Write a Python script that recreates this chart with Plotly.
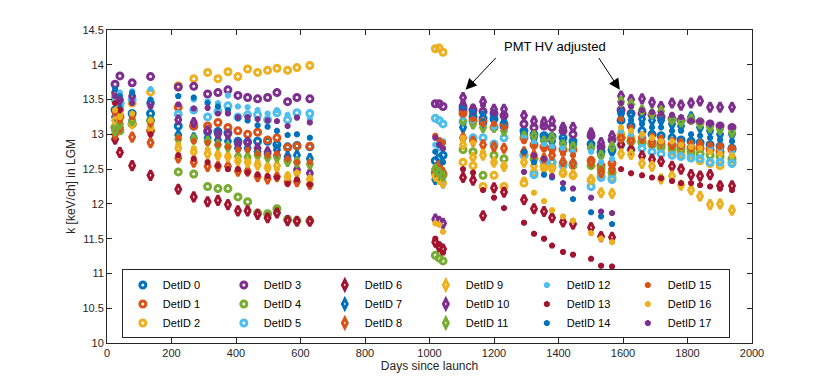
import plotly.graph_objects as go

# days since launch, grouped by campaign
days_g1 = [25, 40, 78, 135, 221, 269, 312, 344, 375, 406, 436, 467, 498, 527, 560, 589, 629]
days_g2 = [1018, 1030, 1042]
days_g3 = [1104, 1135, 1166, 1200, 1231]
days_g4 = [1293, 1324, 1355, 1380, 1414, 1445]
days_g5 = [1501, 1532, 1566]
days_g6 = [1594, 1625, 1659, 1690, 1718, 1752, 1780, 1811, 1839, 1870, 1901, 1938]
days = days_g1 + days_g2 + days_g3 + days_g4 + days_g5 + days_g6

det0 = [13.35, 13.45, 13.3, 13.3, 13.12, 13.12, 13.04, 13.04, 13.02, 12.9, 12.89, 12.9, 12.9, 12.85, 12.82, 12.84, 12.82,
        12.62, 12.66, 12.7,
        13.35, 13.25, 13.23, 13.22, 13.15,
        13.05, 13.0, 12.98, 12.97, 12.95, 12.9,
        12.86, 12.75, 12.78,
        13.2, 13.12, 13.05, 13.0, 12.98, 12.95, 12.92, 12.9, 12.88, 12.85, 12.83, 12.8]
det1 = [13.1, 13.25, 13.15, 13.05, 13.39, 13.12, 13.12, 13.17, 13.1, 13.05, 13.0, 13.03, 12.92, 12.95, 12.81, 12.83, 12.83,
        12.45, 12.5, 12.42,
        13.3, 13.2, 13.18, 13.1, 13.12,
        12.95, 12.85, 12.82, 12.8, 12.78, 12.78,
        12.62, 12.55, 12.58,
        12.95, 12.9, 12.9, 12.88, 12.85, 12.85, 12.83, 12.8, 12.8, 12.78, 12.75, 12.78]
det2 = [13.55, 13.4, 13.45, 13.61, 13.7, 13.8, 13.89, 13.8, 13.9, 13.83, 13.94, 13.89, 13.92, 13.95, 13.92, 13.96, 13.99,
        14.23, 14.24, 14.18,
        12.6, 12.55, 12.25, 12.41, 12.25,
        12.3, 12.45, 12.54, 12.53, 12.44, 12.41,
        12.34, 12.4, 12.38,
        13.0, 12.95, 12.95, 12.85, 12.8, 12.75, 12.72, 12.7, 12.62, 12.58, 12.55, 12.6]
det3 = [13.72, 13.84, 13.74, 13.83, 13.68, 13.69, 13.58, 13.6, 13.64, 13.56, 13.53, 13.51, 13.53, 13.6, 13.47, 13.53, 13.51,
        13.44, 13.44, 13.4,
        13.4, 13.35, 13.33, 13.3, 13.27,
        13.15, 13.1, 13.12, 13.1, 13.05, 13.0,
        12.98, 12.82, 12.92,
        13.35, 13.3, 13.3, 13.28, 13.25, 13.22, 13.2, 13.2, 13.18, 13.15, 13.12, 13.1]
det4 = [13.1, 13.05, 13.15, 13.2, 12.46, 12.43, 12.25, 12.22, 12.22, 12.1, 12.03, 11.87, 11.86, 11.93, 11.78, 11.76, 11.76,
        11.26, 11.22, 11.18,
        12.78, 12.75, 12.41, 12.7, 12.65,
        12.7, 12.65, 12.62, 12.6, 12.58, 12.55,
        12.55, 12.5, 12.45,
        12.95, 12.9, 12.88, 12.85, 12.82, 12.8, 12.78, 12.75, 12.72, 12.7, 12.68, 12.65]
det5 = [13.5, 13.45, 13.5, 13.45, 13.29, 13.35, 13.25, 13.33, 13.41, 13.25, 13.28, 13.28, 13.21, 13.31, 13.21, 13.31, 13.3,
        13.23, 13.2, 13.15,
        13.18, 12.95, 12.95, 12.86, 12.95,
        12.7, 12.42, 12.62, 12.6, 12.55, 12.58,
        12.25, 12.38, 12.35,
        12.85, 12.78, 12.8, 12.75, 12.72, 12.7, 12.68, 12.66, 12.65, 12.6, 12.6, 12.58]
det6 = [12.93, 12.74, 12.55, 12.41, 12.21, 12.1, 12.03, 12.05, 11.99, 11.9, 11.9, 11.85, 11.8, 11.87, 11.76, 11.75, 11.75,
        11.45, 11.38, 11.35,
        12.38, 12.34, 11.83, 12.23, 12.17,
        12.06, 11.93, 11.89, 11.8, 11.74, 11.71,
        11.66, 11.53, 11.52,
        12.85, 12.78, 12.69, 12.64, 12.61, 12.54, 12.5, 12.42, 12.4, 12.42, 12.26, 12.26]
det7 = [13.25, 13.35, 13.2, 13.2, 12.99, 12.95, 12.95, 12.92, 12.9, 12.8, 12.8, 12.75, 12.72, 12.78, 12.68, 12.7, 12.65,
        12.35, 12.4, 12.3,
        13.1, 13.3, 13.15, 13.28, 13.1,
        13.0, 12.95, 12.92, 12.9, 12.88, 12.85,
        12.8, 12.7, 12.75,
        13.3, 13.28, 13.22, 13.2, 13.2, 13.15, 13.12, 13.25, 13.1, 13.05, 13.0, 13.0]
det8 = [13.0, 13.1, 12.96, 12.88, 12.66, 12.6, 12.54, 12.54, 12.54, 12.47, 12.47, 12.39, 12.36, 12.39, 12.32, 12.32, 12.28,
        12.5, 12.55, 12.45,
        12.95, 12.9, 12.85, 12.82, 12.8,
        12.75, 12.7, 12.65, 12.7, 12.6, 12.58,
        12.6, 12.45, 12.5,
        12.95, 12.92, 12.95, 12.88, 12.9, 12.85, 12.85, 12.82, 12.85, 12.8, 12.82, 12.78]
det9 = [13.2, 13.3, 13.15, 13.1, 12.8, 12.75, 12.72, 12.7, 12.68, 12.62, 12.6, 12.56, 12.52, 12.55, 12.39, 12.45, 12.35,
        12.4, 12.35, 12.3,
        12.85, 12.67, 12.7, 12.6, 12.54,
        12.6, 12.55, 12.5, 12.5, 12.45, 12.42,
        12.35, 12.16, 12.15,
        12.72, 12.71, 12.58, 12.54, 12.36, 12.4, 12.27, 12.2, 12.11, 11.99, 12.0, 11.91]
det10 = [13.6, 13.5, 13.55, 13.45, 13.21, 13.17, 13.05, 13.0, 13.0, 12.86, 12.88, 12.8, 12.75, 12.7, 12.63, 12.49, 12.44,
         11.78, 11.75, 11.72,
         13.53, 13.36, 13.47, 13.36, 13.36,
         13.27, 13.19, 13.18, 13.19, 13.1, 13.1,
         13.02, 12.88, 12.98,
         13.55, 13.5, 13.51, 13.46, 13.4, 13.45, 13.42, 13.45, 13.48, 13.39, 13.39, 13.39]
det11 = [13.05, 13.15, 13.2, 13.18, 12.93, 12.93, 12.9, 12.85, 12.82, 12.68, 12.67, 12.7, 12.67, 12.67, 12.61, 12.6, 12.57,
         12.5, 12.45, 12.4,
         13.2, 13.15, 13.1, 13.1, 13.05,
         12.97, 12.98, 12.9, 12.95, 12.85, 12.82,
         12.8, 12.7, 12.82,
         13.47, 13.43, 13.35, 13.3, 13.33, 13.21, 13.18, 13.22, 13.15, 13.1, 13.07, 13.03]
det12 = [13.55, 13.6, 13.62, 13.65, 13.55, 13.5, 13.48, 13.45, 13.56, 13.4, 13.39, 13.35, 13.3, 13.35, 13.28, 13.25, 13.22,
         12.85, 12.8, 12.9,
         13.25, 13.2, 13.15, 13.1, 13.1,
         12.95, 12.88, 12.85, 12.82, 12.8, 12.75,
         12.75, 12.6, 12.65,
         13.05, 13.0, 12.98, 12.95, 12.9, 12.9, 12.85, 12.85, 12.82, 12.8, 12.78, 12.75]
det13 = [13.45, 13.35, 13.25, 13.0, 12.7, 12.65, 12.6, 12.55, 12.5, 12.5, 12.45, 12.42, 12.4, 12.38, 12.29, 12.35, 12.28,
         11.5, 11.42, 11.3,
         12.5, 12.45, 12.2, 12.09, 11.94,
         11.73, 11.57, 11.5, 11.4, 11.31, 11.27,
         11.21, 11.11, 11.1,
         12.5, 12.44, 12.41, 12.38, 12.37, 12.33, 12.3, 12.3, 12.27, 12.25, 12.22, 12.2]
det14 = [13.65, 13.55, 13.6, 13.5, 13.55, 13.53, 13.45, 13.4, 13.35, 13.23, 13.2, 13.13, 13.11, 13.05, 12.99, 13.0, 12.95,
         12.75, 12.85, 12.6,
         13.4, 13.35, 13.3, 13.25, 13.2,
         12.75, 12.6, 12.42, 12.38, 12.22, 12.07,
         11.88, 11.82, 11.71,
         13.25, 13.2, 13.15, 13.1, 13.1, 13.05, 13.05, 13.0, 12.98, 12.95, 12.92, 12.9]
det15 = [13.3, 13.2, 13.25, 13.15, 12.95, 12.9, 12.88, 12.85, 12.82, 12.78, 12.78, 12.72, 12.7, 12.72, 12.65, 12.6, 12.6,
         12.98, 12.92, 12.88,
         13.28, 13.22, 13.15, 13.15, 13.1,
         12.9, 12.82, 12.78, 12.75, 12.72, 12.7,
         12.65, 12.5, 12.55,
         13.22, 13.1, 13.0, 12.98, 12.95, 12.92, 12.9, 12.88, 12.85, 12.85, 12.82, 12.8]
det16 = [13.35, 13.25, 13.3, 13.2, 12.85, 12.8, 12.78, 12.72, 12.7, 12.65, 12.62, 12.6, 12.55, 12.5, 12.42, 12.45, 12.38,
         11.72, 11.7, 11.6,
         12.95, 12.88, 12.75, 12.62, 12.56,
         12.35, 12.16, 12.04, 11.91, 11.82, 11.76,
         11.58, 11.5, 11.45,
         13.1, 13.05, 13.0, 12.95, 12.9, 12.9, 12.85, 12.82, 12.8, 12.75, 12.72, 12.7]
det17 = [13.55, 13.5, 13.45, 13.4, 13.43, 13.37, 13.38, 13.3, 13.3, 13.25, 13.25, 13.22, 13.2, 13.19, 13.12, 13.24, 13.17,
         12.95, 12.85, 12.8,
         13.45, 13.4, 13.42, 13.3, 13.25,
         12.46, 12.7, 12.65, 12.4, 12.3, 12.22,
         12.09, 11.89, 11.87,
         13.45, 13.4, 13.35, 13.32, 13.3, 13.28, 13.25, 13.2, 13.18, 13.15, 13.12, 13.1]

detectors = [det0, det1, det2, det3, det4, det5, det6, det7, det8,
             det9, det10, det11, det12, det13, det14, det15, det16, det17]

colors = ["#0072BD", "#D95319", "#EDB120", "#7E2F8E", "#77AC30", "#4DBEEE", "#A2142F"]
axisColor = "#262626"
fontFamily = "Liberation Sans, Arial, sans-serif"

fig = go.Figure()
for i, values in enumerate(detectors):
    color = colors[i % 7]
    if i < 6:
        marker = dict(symbol="circle-open", size=6, color=color, line=dict(width=3, color=color))
    elif i < 12:
        marker = dict(symbol="diamond-tall-open", size=7, color=color, line=dict(width=3, color=color))
    else:
        marker = dict(symbol="asterisk-open", size=5, color=color, line=dict(width=2.6, color=color))
    # legend fills column-wise in the reference: 3 rows x 6 columns
    rank = (i % 3) * 6 + i // 3
    fig.add_trace(go.Scatter(x=days, y=values, mode="markers", marker=marker,
                             name="DetID %d" % i, legendrank=rank + 1))

axisStyle = dict(showgrid=False, zeroline=False, showline=True, linecolor=axisColor, linewidth=1,
                 mirror="ticks", ticks="inside", ticklen=5, tickcolor=axisColor,
                 tickfont=dict(size=11, color=axisColor, family=fontFamily))

# page body adds an 8px margin, so the figure is a little smaller than the window
fig.update_layout(
    width=822, height=377,
    margin=dict(l=99, r=78, t=22, b=42, autoexpand=False),
    paper_bgcolor="white", plot_bgcolor="white",
    font=dict(family=fontFamily, color=axisColor, size=11),
    xaxis=dict(range=[0, 2000], dtick=200, tick0=0,
               title=dict(text="Days since launch", font=dict(size=12), standoff=2), **axisStyle),
    yaxis=dict(range=[10, 14.5], dtick=0.5, tick0=10, **axisStyle),
    showlegend=True,
    legend=dict(orientation="h", x=0.023, y=0.235, xanchor="left", yanchor="top",
                entrywidth=56, entrywidthmode="pixels", bordercolor=axisColor, borderwidth=1,
                bgcolor="white", font=dict(size=11, color="#000000"), tracegroupgap=0,
                itemwidth=30),
)

# y axis title placed close to the tick labels, as in the reference
fig.add_annotation(x=-0.057, y=0.5, xref="paper", yref="paper", text="k [keV/ch] in LGM",
                   textangle=-90, showarrow=False, xanchor="center", yanchor="middle",
                   font=dict(size=12, color=axisColor))

# annotation with two arrows
fig.add_annotation(x=1389, y=14.26, text="PMT HV adjusted", showarrow=False,
                   font=dict(size=13, color="#000000"))
for headX, tailX in [(1112, 1210), (1590, 1522)]:
    fig.add_annotation(x=headX, y=13.64, ax=tailX, ay=14.12, axref="x", ayref="y",
                       text="", showarrow=True, arrowhead=2, arrowsize=2.2, arrowwidth=1,
                       arrowcolor="#000000")

fig.write_html("out.html")
